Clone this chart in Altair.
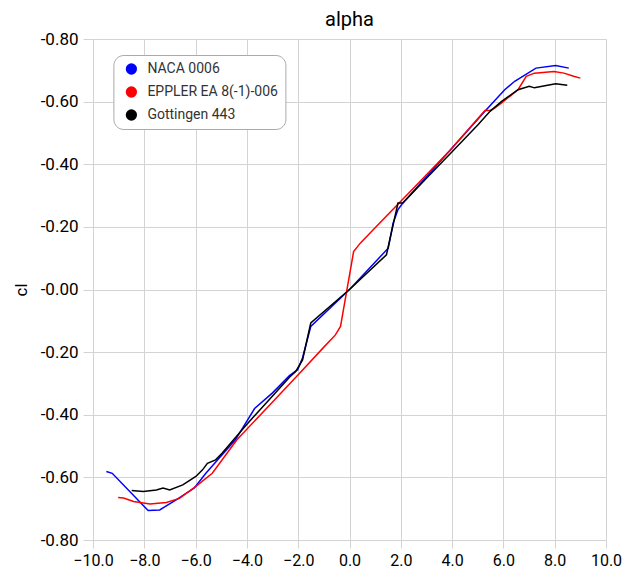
import altair as alt
import pandas as pd

series_names = ["NACA 0006", "EPPLER EA 8(-1)-006", "Gottingen 443"]
series_colors = ["#0000ff", "#ff0000", "#000000"]

naca_alpha = [-9.48, -9.25, -7.85, -7.40, -6.76, -6.05, -5.60, -4.45, -3.70, -3.0,
              -2.34, -2.02, -1.83, -1.51, 0.0, 1.51, 1.70, 1.89, 2.08, 3.0, 4.0,
              5.28, 6.05, 6.44, 7.27, 8.04, 8.55]
naca_cl = [-0.581, -0.587, -0.706, -0.704, -0.672, -0.634, -0.587, -0.480, -0.380,
           -0.330, -0.275, -0.256, -0.218, -0.118, 0.0, 0.132, 0.212, 0.255, 0.276,
           0.360, 0.452, 0.569, 0.638, 0.665, 0.707, 0.715, 0.707]

eppler_alpha = [-9.02, -8.81, -8.42, -7.78, -7.14, -6.63, -5.99, -5.35, -4.39, -3.0,
                -2.0, -1.0, -0.55, -0.35, 0.16, 0.42, 1.0, 2.0, 2.85, 3.94, 5.28,
                5.48, 5.67, 5.93, 6.57, 6.89, 7.21, 7.97, 8.36, 8.74, 9.0]
eppler_cl = [-0.664, -0.666, -0.677, -0.685, -0.680, -0.667, -0.629, -0.587, -0.480,
             -0.359, -0.272, -0.184, -0.145, -0.118, 0.121, 0.148, 0.197, 0.282,
             0.354, 0.446, 0.572, 0.572, 0.580, 0.596, 0.638, 0.681, 0.691, 0.696,
             0.691, 0.681, 0.675]

gott_alpha = [-8.49, -8.04, -7.53, -7.27, -7.01, -6.50, -5.99, -5.73, -5.54, -5.22,
              -4.97, -4.0, -3.0, -2.34, -2.10, -1.83, -1.51, 0.0, 1.44, 1.89, 2.08,
              3.0, 4.0, 5.0, 5.48, 5.93, 6.57, 7.01, 7.21, 7.72, 8.04, 8.49]
gott_cl = [-0.642, -0.645, -0.640, -0.634, -0.640, -0.624, -0.597, -0.576, -0.555,
           -0.544, -0.523, -0.430, -0.340, -0.280, -0.262, -0.225, -0.107, 0.0, 0.111,
           0.276, 0.276, 0.355, 0.440, 0.525, 0.569, 0.601, 0.638, 0.649, 0.644,
           0.652, 0.657, 0.652]

x_ticks = [-10, -8, -6, -4, -2, 0, 2, 4, 6, 8, 10]
y_ticks = [-0.8, -0.6, -0.4, -0.2, 0.0, 0.2, 0.4, 0.6, 0.8]

rows = []
for name, xs, ys in [(series_names[0], naca_alpha, naca_cl),
                     (series_names[1], eppler_alpha, eppler_cl),
                     (series_names[2], gott_alpha, gott_cl)]:
    for i, (a, c) in enumerate(zip(xs, ys)):
        rows.append({"airfoil": name, "alpha": a, "cl": c, "order": i})
df = pd.DataFrame(rows)

FONT = "Roboto"
GRID = "#d3d3d3"

x_enc = alt.X("alpha:Q",
              scale=alt.Scale(domain=[-10, 10], nice=False),
              axis=alt.Axis(values=x_ticks, format=".1f", title=None, domain=False,
                            tickColor=GRID, tickSize=8, gridColor=GRID,
                            labelFontSize=16, labelFont=FONT, labelColor="#000000",
                            labelPadding=4, labelFlush=False))
y_enc = alt.Y("cl:Q",
              scale=alt.Scale(domain=[-0.8, 0.8], nice=False),
              axis=alt.Axis(values=y_ticks, title="cl", domain=False,
                            labelExpr="'-' + format(abs(datum.value), '.2f')",
                            tickColor=GRID, tickSize=10, gridColor=GRID,
                            labelFontSize=17, labelFont=FONT, labelColor="#000000",
                            labelPadding=5, labelFlush=False,
                            titleFontSize=17, titleFont=FONT,
                            titleFontWeight="normal", titleColor="#000000",
                            titlePadding=10))
color_scale = alt.Scale(domain=series_names, range=series_colors)

lines = alt.Chart(df).mark_line(strokeWidth=1.5).encode(
    x=x_enc, y=y_enc,
    color=alt.Color("airfoil:N", scale=color_scale, legend=None),
    order="order:Q",
)

legend_pts = alt.Chart(df).transform_filter("false").mark_circle(opacity=1, size=127).encode(
    x="alpha:Q", y="cl:Q",
    color=alt.Color("airfoil:N", scale=color_scale,
                    legend=alt.Legend(title=None, orient="none", legendX=20.4, legendY=16,
                                      symbolType="circle", symbolSize=127,
                                      symbolOffset=4,
                                      labelFontSize=14, labelFont=FONT,
                                      labelColor="#333333", labelOffset=9,
                                      rowPadding=9, padding=7, cornerRadius=10,
                                      strokeColor="#aaaaaa", fillColor="#ffffff")),
)

chart = alt.layer(lines, legend_pts).resolve_legend(color="independent").properties(
    width=513, height=501,
    padding={"left": 4, "top": 2, "right": 0, "bottom": 0},
    title=alt.TitleParams("alpha", fontSize=20, fontWeight="normal", font=FONT,
                          color="#000000", offset=0),
).configure_view(stroke=None)

chart.save("out.html", embed_options={"renderer": "svg", "actions": False})
